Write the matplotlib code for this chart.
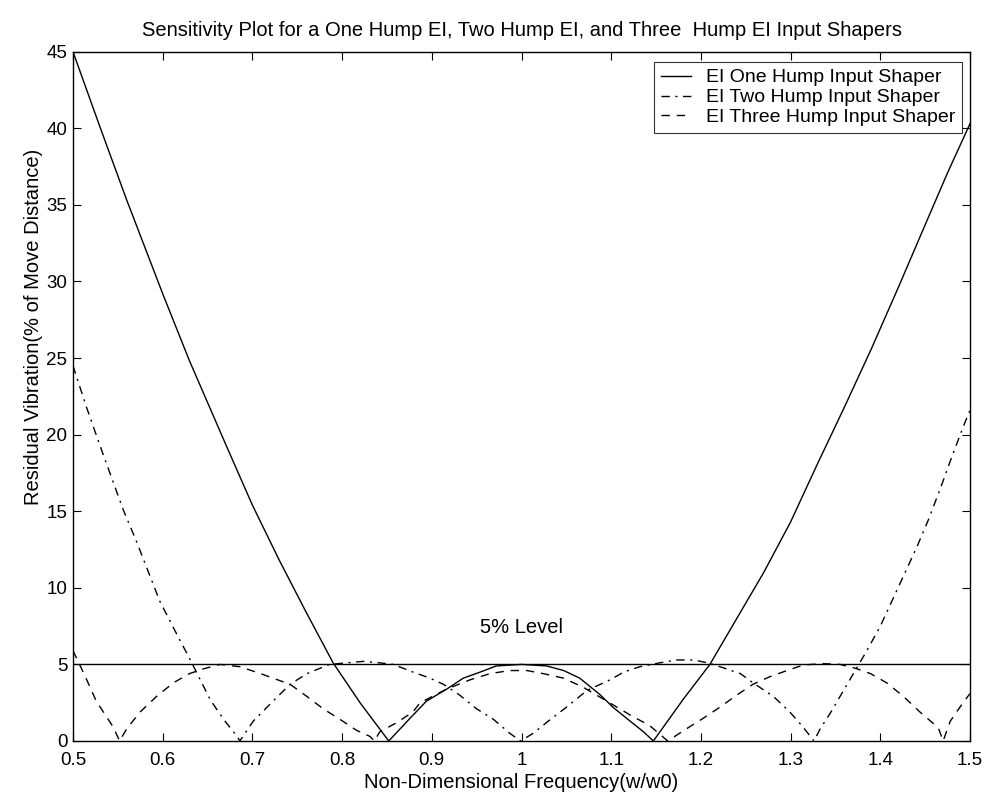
import matplotlib
matplotlib.use("Agg")
import matplotlib.pyplot as plt

plt.rcParams['font.family'] = ['Liberation Sans', 'DejaVu Sans']

# Residual vibration (% of move distance) versus normalized frequency w/w0
one_hump_f = [0.500, 0.530, 0.560, 0.600, 0.630, 0.670, 0.700, 0.730, 0.760, 0.790,
              0.820, 0.852, 0.876, 0.894, 0.917, 0.935, 0.954, 0.972, 1.000, 1.028,
              1.047, 1.065, 1.088, 1.102, 1.121, 1.136, 1.147, 1.180, 1.210, 1.240,
              1.270, 1.300, 1.330, 1.360, 1.390, 1.420, 1.450, 1.475, 1.500]
one_hump_v = [45.0, 40.1, 35.3, 29.2, 24.8, 19.4, 15.4, 11.8, 8.4, 5.1,
              2.5, 0.0, 1.5, 2.6, 3.4, 4.1, 4.5, 4.9, 5.0, 4.9,
              4.6, 4.1, 3.0, 2.2, 1.3, 0.6, 0.0, 2.7, 5.0, 8.0,
              11.0, 14.3, 18.1, 21.8, 25.6, 29.6, 33.7, 37.1, 40.3]

two_hump_f = [0.500, 0.515, 0.530, 0.543, 0.556, 0.571, 0.597, 0.619, 0.629, 0.653,
              0.668, 0.683, 0.686, 0.701, 0.723, 0.742, 0.761, 0.786, 0.805, 0.824,
              0.842, 0.857, 0.879, 0.898, 0.913, 0.931, 0.950, 0.969, 0.987, 0.999,
              1.013, 1.032, 1.050, 1.073, 1.099, 1.114, 1.132, 1.151, 1.173, 1.192,
              1.210, 1.244, 1.258, 1.281, 1.299, 1.314, 1.326, 1.333, 1.344, 1.355,
              1.366, 1.372, 1.385, 1.400, 1.415, 1.441, 1.454, 1.467, 1.480, 1.493,
              1.500]
two_hump_v = [24.5, 21.8, 19.3, 17.2, 15.1, 13.0, 9.1, 6.6, 5.5, 2.7,
              1.4, 0.3, 0.0, 1.3, 2.6, 3.7, 4.4, 5.0, 5.1, 5.2,
              5.1, 5.0, 4.5, 4.1, 3.7, 3.0, 2.1, 1.4, 0.5, 0.0,
              0.5, 1.4, 2.2, 3.3, 4.0, 4.5, 4.85, 5.07, 5.29, 5.29,
              5.07, 4.4, 3.8, 2.9, 1.9, 0.9, 0.0, 0.8, 1.8, 2.9,
              4.0, 4.6, 5.9, 7.5, 9.4, 12.7, 14.5, 16.5, 18.6, 20.6,
              21.6]

three_hump_f = [0.500, 0.513, 0.526, 0.545, 0.552, 0.560, 0.575, 0.593, 0.612, 0.630,
                0.645, 0.664, 0.686, 0.709, 0.723, 0.742, 0.761, 0.779, 0.798, 0.816,
                0.831, 0.836, 0.842, 0.861, 0.879, 0.887, 0.917, 0.943, 0.965, 0.987,
                1.006, 1.024, 1.047, 1.069, 1.098, 1.121, 1.143, 1.163, 1.184, 1.203,
                1.221, 1.240, 1.258, 1.277, 1.296, 1.314, 1.335, 1.355, 1.372, 1.389,
                1.407, 1.426, 1.444, 1.459, 1.465, 1.470, 1.478, 1.491, 1.500]
three_hump_v = [5.9, 4.3, 2.6, 0.9, 0.0, 0.8, 1.9, 2.9, 3.8, 4.4,
                4.7, 5.0, 4.85, 4.4, 4.1, 3.7, 2.9, 2.1, 1.4, 0.7,
                0.3, 0.0, 0.6, 1.2, 1.9, 2.5, 3.4, 4.0, 4.4, 4.6,
                4.6, 4.4, 4.1, 3.5, 2.5, 1.7, 1.0, 0.0, 0.8, 1.5,
                2.2, 3.0, 3.7, 4.2, 4.6, 4.96, 5.05, 5.0, 4.75, 4.4,
                3.8, 2.9, 1.9, 1.15, 0.8, 0.0, 1.3, 2.4, 3.1]

level_v = 5.0
x_ticks = [0.5, 0.6, 0.7, 0.8, 0.9, 1.0, 1.1, 1.2, 1.3, 1.4, 1.5]
x_tick_labels = ['0.5', '0.6', '0.7', '0.8', '0.9', '1', '1.1', '1.2', '1.3', '1.4', '1.5']
y_ticks = [0, 5, 10, 15, 20, 25, 30, 35, 40, 45]

TICK_FS = 13.5
TEXT_FS = 14.5

fig = plt.figure(figsize=(9.94, 7.99), dpi=100)
ax = fig.add_axes([0.0734, 0.0726, 0.9025, 0.8628])

ax.plot(one_hump_f, one_hump_v, color='black', lw=1.0, ls='-',
        label='EI One Hump Input Shaper')
ax.plot(two_hump_f, two_hump_v, color='black', lw=1.0, ls=(0, (6, 4, 1.5, 4)),
        label='EI Two Hump Input Shaper')
ax.plot(three_hump_f, three_hump_v, color='black', lw=1.0, ls=(0, (6, 5)),
        label='EI Three Hump Input Shaper')
ax.axhline(level_v, color='black', lw=1.0)
ax.text(1.0, 7.4, '5% Level', fontsize=TEXT_FS, va='center', ha='center')

ax.set_xlim(0.5, 1.5)
ax.set_ylim(0, 45)
ax.set_xticks(x_ticks)
ax.set_xticklabels(x_tick_labels)
ax.set_yticks(y_ticks)
ax.tick_params(direction='in', length=6, width=0.8, labelsize=TICK_FS,
               top=True, right=True)
ax.tick_params(axis='x', pad=8)
ax.tick_params(axis='y', pad=4)
for s in ax.spines.values():
    s.set_linewidth(1.0)

ax.set_title('Sensitivity Plot for a One Hump EI, Two Hump EI, and Three  Hump EI Input Shapers',
             fontsize=TEXT_FS, pad=11)
ax.set_xlabel('Non-Dimensional Frequency(w/w0)', fontsize=TEXT_FS, labelpad=3)
ax.set_ylabel('Residual Vibration(% of Move Distance)', fontsize=TEXT_FS)
ax.yaxis.set_label_coords(-0.0335, 0.6)

leg = ax.legend(loc='upper right', bbox_to_anchor=(0.991, 0.985), fontsize=14,
                frameon=True, fancybox=False, edgecolor='black', handlelength=1.55,
                borderpad=0.35, labelspacing=0.12, handletextpad=0.77, borderaxespad=0)
leg.get_frame().set_linewidth(0.8)

fig.savefig('out.png', dpi=100, facecolor='white')
